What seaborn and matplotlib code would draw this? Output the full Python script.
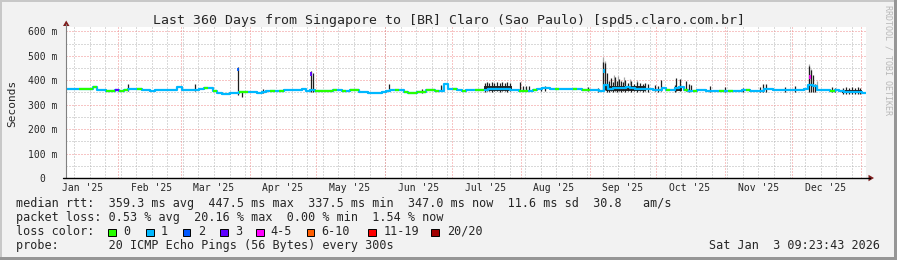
import datetime as dt
import matplotlib
matplotlib.use("Agg")
import matplotlib.pyplot as plt
import matplotlib.transforms as mtransforms
from matplotlib.patches import Rectangle, Polygon
import seaborn as sns
import pandas as pd

# ---------------- data ----------------
TITLE = "Last 360 Days from Singapore to [BR] Claro (Sao Paulo) [spd5.claro.com.br]"
START = dt.datetime(2025, 1, 8, 9, 23, 43)
SPAN_DAYS = 360
Y_TICKS = [0, 100, 200, 300, 400, 500, 600]
Y_LABELS = ["0  ", "100 m", "200 m", "300 m", "400 m", "500 m", "600 m"]
MONTH_LABELS = ["Jan '25", "Feb '25", "Mar '25", "Apr '25", "May '25", "Jun '25",
                "Jul '25", "Aug '25", "Sep '25", "Oct '25", "Nov '25", "Dec '25"]

STEP_DAYS = 2
MEDIAN_MS = [363, 363, 364, 364, 364, 366, 373, 362, 362, 357,
             357, 360, 356, 362, 363, 364, 364, 362, 360, 358,
             360, 362, 361, 362, 362, 372, 362, 362, 361, 360,
             365, 370, 370, 355, 348, 344, 344, 348, 348, 350,
             352, 350, 350, 348, 350, 357, 357, 358, 358, 362,
             362, 362, 362, 366, 356, 360, 357, 357, 357, 358,
             360, 362, 358, 356, 362, 362, 352, 350, 348, 348,
             348, 350, 357, 360, 360, 360, 352, 348, 348, 350,
             352, 360, 360, 358, 357, 383, 366, 364, 362, 356,
             362, 362, 360, 360, 362, 365, 366, 364, 366, 364,
             362, 360, 358, 357, 357, 360, 366, 368, 368, 366,
             364, 364, 366, 366, 364, 366, 362, 362, 360, 360,
             356, 380, 366, 368, 370, 368, 372, 368, 366, 366,
             366, 364, 362, 362, 368, 362, 362, 370, 373, 360,
             358, 358, 360, 360, 358, 354, 354, 356, 356, 358,
             358, 358, 360, 360, 356, 356, 358, 366, 365, 360,
             360, 360, 360, 360, 360, 362, 364, 380, 375, 362,
             362, 362, 358, 360, 354, 352, 350, 350, 350, 349]
LOSS_CODE = [1, 1, 1, 0, 0, 0, 0, 1, 1, 0,
             0, 3, 0, 0, 1, 1, 0, 1, 1, 1,
             1, 1, 1, 1, 1, 1, 1, 1, 1, 1,
             1, 0, 1, 0, 1, 1, 1, 1, 1, 0,
             0, 1, 1, 1, 1, 1, 0, 1, 0, 1,
             1, 1, 1, 1, 1, 1, 0, 0, 0, 0,
             0, 1, 0, 1, 0, 0, 1, 1, 1, 1,
             1, 1, 1, 1, 0, 1, 0, 0, 0, 0,
             0, 0, 0, 0, 1, 1, 1, 0, 1, 0,
             1, 1, 0, 0, 1, 1, 1, 1, 1, 1,
             1, 1, 0, 0, 1, 0, 1, 1, 1, 1,
             0, 1, 1, 1, 0, 1, 0, 0, 1, 1,
             1, 1, 1, 1, 1, 1, 1, 1, 1, 1,
             1, 1, 1, 1, 1, 0, 1, 1, 1, 0,
             1, 0, 1, 1, 1, 1, 1, 0, 1, 0,
             1, 1, 1, 0, 1, 1, 1, 1, 1, 1,
             1, 1, 1, 1, 1, 1, 1, 1, 1, 1,
             1, 1, 0, 1, 1, 1, 1, 1, 1, 1]

# narrow peaks of the median line (day offset, value ms, loss code)
PEAK_DAY = [77.4, 110.3, 242.1, 334.8]
PEAK_MS = [452, 434, 447, 420]
PEAK_LOSS = [2, 3, 1, 4]

# dense dark smoke blocks (start day, end day, bottom ms, top ms)
BLOCK_START = [188.2, 243.0, 273.8, 349.2]
BLOCK_END = [200.8, 261.0, 277.0, 358.0]
BLOCK_LOW = [354, 356, 356, 347]
BLOCK_HIGH = [378, 376, 374, 360]

# dark smoke bars (day offset, bottom ms, top ms)
SMOKE_DAY = [27.9, 58.1, 77.4, 79.1, 88.7, 110.3, 111.2, 145.4, 160.2, 168.8, 169.7,
             188.6, 189.5, 190.4, 191.7, 192.6, 194.0, 195.3, 196.2, 197.6, 198.5, 199.8,
             204.3, 205.7, 207.0, 208.4, 213.8, 215.6, 234.9, 239.4,
             241.7, 242.6, 243.5, 244.4, 245.3, 246.2, 247.1, 248.0, 248.9, 249.8,
             250.7, 251.6, 252.9, 254.3, 255.6, 256.9, 258.3, 259.7, 260.6, 261.8,
             265.1, 266.4, 267.8, 274.2, 274.7, 276.2, 279.0, 280.3, 281.2,
             289.8, 296.6, 304.7, 312.3, 313.7, 315.1, 323.4, 327.9,
             334.4, 335.2, 336.1, 337.0, 344.6, 346.0,
             349.7, 351.1, 352.4, 353.8, 355.1, 356.5, 357.4]
SMOKE_LOW = [358, 358, 340, 332, 348, 352, 352, 358, 348, 355, 355,
             352, 354, 356, 352, 354, 355, 353, 356, 354, 352, 355,
             355, 360, 360, 360, 358, 358, 355, 352,
             360, 360, 350, 352, 355, 352, 356, 352, 354, 350,
             355, 352, 356, 352, 354, 352, 355, 352, 354, 352,
             355, 352, 356, 352, 355, 354, 356, 352, 355,
             352, 352, 352, 352, 352, 350, 352, 352,
             350, 350, 352, 352, 350, 350,
             345, 345, 345, 345, 345, 345, 345]
SMOKE_HIGH = [386, 384, 454, 352, 364, 437, 430, 386, 364, 380, 378,
              388, 392, 390, 393, 389, 391, 388, 393, 390, 392, 390,
              393, 378, 376, 378, 372, 376, 372, 370,
              476, 470, 430, 395, 408, 392, 414, 395, 405, 398,
              392, 402, 390, 395, 386, 392, 388, 386, 390, 386,
              380, 378, 400, 380, 408, 405, 395, 385, 382,
              375, 372, 370, 372, 386, 384, 372, 375,
              457, 440, 420, 386, 372, 370,
              370, 373, 368, 372, 370, 371, 368]
# light grey smoke (day offset, bottom ms, top ms)
HAZE_DAY = [241.7, 242.6, 246.5, 248.5, 251.0, 254.0, 257.0, 334.4, 335.2, 338.0]
HAZE_LOW = [380, 380, 380, 380, 380, 380, 380, 380, 380, 370]
HAZE_HIGH = [496, 480, 420, 418, 412, 405, 400, 465, 445, 395]

LOSS_COLORS = ["#26ff00", "#00b8ff", "#0059ff", "#5e00ff", "#ff00fe",
               "#ff5e00", "#ff0000", "#a10000"]
LOSS_NAMES = ["0", "1", "2", "3", "4-5", "6-10", "11-19", "20/20"]

STAT_LINE1 = "median rtt:  359.3 ms avg  447.5 ms max  337.5 ms min  347.0 ms now  11.6 ms sd  30.8   am/s"
STAT_LINE2 = "packet loss: 0.53 % avg  20.16 % max  0.00 % min  1.54 % now"
PROBE_LINE = "probe:       20 ICMP Echo Pings (56 Bytes) every 300s"
STAMP = "Sat Jan  3 09:23:43 2026"

# ---------------- figure ----------------
W, H = 897, 260
sns.set_style("white")
plt.rcParams["font.family"] = ["DejaVu Sans Mono", "DejaVu Sans"]

fig = plt.figure(figsize=(W / 100, H / 100), dpi=100)
fig.patch.set_facecolor("#f2f2f2")


def fx(x):
    return x / W


def fy(y):
    return 1 - y / H


# frame shading
fig.add_artist(Rectangle((0, fy(2)), 1, 2 / H, transform=fig.transFigure, color="#c8c8c8", lw=0))
fig.add_artist(Rectangle((0, 0), fx(2), 1, transform=fig.transFigure, color="#c8c8c8", lw=0))
fig.add_artist(Rectangle((0, 0), 1, 3 / H, transform=fig.transFigure, color="#969696", lw=0))
fig.add_artist(Rectangle((fx(W - 3), 0), 3 / W, 1, transform=fig.transFigure, color="#969696", lw=0))

L, R, T, B = 66, 866, 26.5, 178
ax = fig.add_axes([fx(L), fy(B), (R - L) / W, (B - T) / H])
ax.set_facecolor("white")
ax.set_xlim(0, SPAN_DAYS)
ax.set_ylim(0, 620)
for s in ax.spines.values():
    s.set_visible(False)


def day_of(d):
    return (d - START).total_seconds() / 86400.0


month_starts = [day_of(dt.datetime(2025, m, 1)) for m in range(2, 13)] + [day_of(dt.datetime(2026, 1, 1))]
week_starts = []
d = dt.datetime(2025, 1, 12)
while day_of(d) < SPAN_DAYS:
    week_starts.append(day_of(d))
    d += dt.timedelta(days=7)

dots = (0, (1, 2))
for wv in week_starts:
    ax.axvline(wv, color="#b4b4b4", lw=0.72, ls=dots, zorder=1)
for yv in range(50, 600, 100):
    ax.axhline(yv, color="#b4b4b4", lw=0.72, ls=dots, zorder=1)
for mv in month_starts:
    ax.axvline(mv, color="#f08c8c", lw=0.72, ls=dots, zorder=1.1)
for yv in Y_TICKS[1:]:
    ax.axhline(yv, color="#f08c8c", lw=0.72, ls=dots, zorder=1.1)

# ticks
ax.set_xticks(month_starts)
ax.set_xticks(week_starts, minor=True)
ax.tick_params(axis="x", which="major", length=2.5, width=0.7, color="#f08080", labelbottom=False)
ax.tick_params(axis="x", which="minor", length=2, width=0.7, color="#b0b0b0")
ax.set_yticks(Y_TICKS)
ax.set_yticklabels(Y_LABELS)
ax.set_yticks([], minor=True)
ax.tick_params(axis="y", which="major", length=0, pad=6.2, labelsize=7)

# smoke
ax.vlines(HAZE_DAY, HAZE_LOW, HAZE_HIGH, color="#a8a8a8", lw=0.9, zorder=2.5)
for bs, be, bl, bh in zip(BLOCK_START, BLOCK_END, BLOCK_LOW, BLOCK_HIGH):
    ax.fill_between([bs, be], [bl, bl], [bh, bh], color="#2a2a2a", lw=0, zorder=2.8)
ax.vlines(SMOKE_DAY, SMOKE_LOW, SMOKE_HIGH, color="#1e1e1e", lw=0.9, zorder=3)

# median line
days = [i * STEP_DAYS for i in range(len(MEDIAN_MS))]
df = pd.DataFrame({"day": days + [SPAN_DAYS], "ms": MEDIAN_MS + [MEDIAN_MS[-1]]})
sns.lineplot(data=df, x="day", y="ms", drawstyle="steps-post", color=LOSS_COLORS[1],
             lw=1.6, ax=ax, zorder=4)
for dv, mv, lc in zip(days, MEDIAN_MS, LOSS_CODE):
    if lc != 1:
        ax.hlines(mv, dv, dv + STEP_DAYS, color=LOSS_COLORS[lc], lw=1.6, zorder=4.5)
for dv, mv, lc in zip(PEAK_DAY, PEAK_MS, PEAK_LOSS):
    ax.vlines(dv, mv - 16, mv, color=LOSS_COLORS[lc], lw=1.3, zorder=4.6)
ax.set_xlabel("")
ax.set_ylabel("")

# axes lines + arrows
fig.add_artist(plt.Line2D([fx(L), fx(L)], [fy(B), fy(24)], transform=fig.transFigure, color="#808080", lw=0.8))
fig.add_artist(plt.Line2D([fx(L - 3), fx(870)], [fy(B), fy(B)], transform=fig.transFigure, color="black", lw=1.0))
fig.add_artist(Polygon([(fx(63), fy(26)), (fx(69.5), fy(26)), (fx(66.2), fy(20.5))], closed=True,
                       transform=fig.transFigure, color="#801f1f", lw=0))
fig.add_artist(Polygon([(fx(868.5), fy(174.8)), (fx(868.5), fy(181.3)), (fx(874), fy(178))], closed=True,
                       transform=fig.transFigure, color="#801f1f", lw=0))

# month labels (centred half a month after month start)
btr = mtransforms.blended_transform_factory(ax.transData, fig.transFigure)
label_pos = [day_of(dt.datetime(2025, 1, 1)) + 15] + [m + 15 for m in month_starts[:-1]]
for lab, pos in zip(MONTH_LABELS, label_pos):
    ax.text(pos, fy(191), lab, transform=btr, ha="center", va="baseline", fontsize=7, clip_on=False)

# title / axis label / watermark
fig.text(0.5, fy(24), TITLE, ha="center", va="baseline", fontsize=9.5)
fig.text(fx(12), fy(103), "Seconds", rotation=90, ha="center", va="center", fontsize=8)
fig.text(fx(888), fy(5), "RRDTOOL / TOBI OETIKER", rotation=270, ha="center", va="top",
         fontsize=6, color="#b8b8b8")

# legend rows
fs = 8.5
fig.text(fx(16), fy(207), STAT_LINE1, ha="left", va="baseline", fontsize=fs)
fig.text(fx(16), fy(221), STAT_LINE2, ha="left", va="baseline", fontsize=fs)
fig.text(fx(16), fy(235), "loss color:", ha="left", va="baseline", fontsize=fs)
sq_x = [108.3, 146, 182.7, 220, 256, 306.7, 368.3, 431]
lab_x = [123.3, 161, 198, 235, 270.7, 321.7, 383.3, 446.7]
for c, nm, sx, lx in zip(LOSS_COLORS, LOSS_NAMES, sq_x, lab_x):
    fig.add_artist(Rectangle((fx(sx), fy(236)), 7.5 / W, 7.5 / H, transform=fig.transFigure,
                             facecolor=c, edgecolor="black", lw=0.7))
    fig.text(fx(lx), fy(235), nm, ha="left", va="baseline", fontsize=fs)
fig.text(fx(16), fy(249), PROBE_LINE, ha="left", va="baseline", fontsize=fs)
fig.text(fx(880), fy(249), STAMP, ha="right", va="baseline", fontsize=fs)

fig.savefig("out.png", dpi=100, facecolor=fig.get_facecolor())
